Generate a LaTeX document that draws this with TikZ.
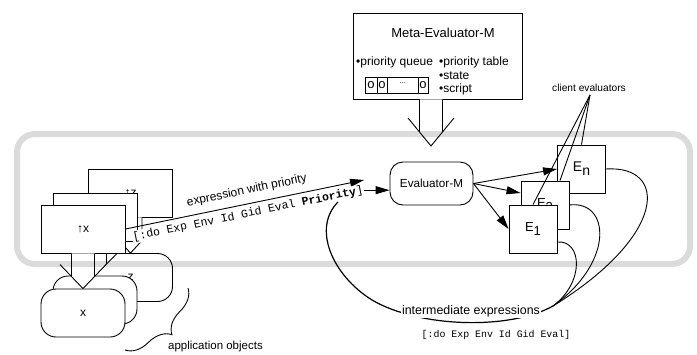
\documentclass[tikz,border=0pt]{standalone}
\usepackage{fontspec}
\setmainfont{Liberation Sans}
\newfontfamily\monofont{Liberation Mono}
\usetikzlibrary{arrows.meta,calc,decorations.pathreplacing}
\newcommand\fsz[2]{\fontsize{#1}{#2}\selectfont}
% hollow block arrow: #1 top point, #2 tip point, #3 head length
\newcommand\blockarrow[3]{%
  \fill[white] let \p1=#1, \p2=#2 in
    (\x2-11.5pt,\y1) -- (\x2-11.5pt,\y2+#3) -- (\x2-23pt,\y2+#3) -- (\x2,\y2)
    -- (\x2+23pt,\y2+#3) -- (\x2+11.5pt,\y2+#3) -- (\x2+11.5pt,\y1) -- cycle;
  \draw[conn] let \p1=#1, \p2=#2 in
    (\x2-11.5pt,\y1) -- (\x2-11.5pt,\y2+0.5*#3)
    (\x2-23pt,\y2+#3) -- (\x2,\y2) -- (\x2+23pt,\y2+#3)
    (\x2+11.5pt,\y2+0.5*#3) -- (\x2+11.5pt,\y1);}
\tikzset{
  conn/.style={line width=0.9pt, black},
  box/.style={draw, line width=0.9pt, fill=white, inner sep=0pt},
  abox/.style={box, minimum width=84pt, minimum height=48pt},
  rbox/.style={abox, rounded corners=15pt},
  ebox/.style={box, minimum width=48pt, minimum height=48pt},
  qcell/.style={draw, line width=0.9pt, minimum height=16pt, inner sep=0pt},
  lbl/.style={inner sep=0pt},
  headarrow/.style={-{Triangle[length=14pt,width=8pt]}}
}
\begin{document}
\begin{tikzpicture}[x=1pt,y=-1pt]
\useasboundingbox (0,0) rectangle (697,354);

% ---- stacked application objects (back to front)
\node[abox] (uz) at (130.5,193) {\fsz{12}{12}↑z};
\node[rbox] (z) at (130.5,277.5) {\fsz{12}{12}z};
\blockarrow{(uz.south)}{(z.north)}{25pt}
\node[abox] (uy) at (95,217) {};
\node[rbox] (y) at (95,300) {};
\blockarrow{(uy.south)}{(y.north)}{23pt}
\node[abox] (ux) at (83,229) {\fsz{12}{12}↑x};
\node[rbox] (x) at (83,313) {\fsz{12}{12}x};
\blockarrow{(ux.south)}{(x.north)}{24pt}

% ---- Evaluator-M
\node[box, rounded corners=13pt, minimum width=83pt, minimum height=43pt] (evalm) at (431.5,183.5) {\fsz{11.7}{14}Evaluator-M};

% ---- message from application object
\coordinate (tip1) at (364,180);
\draw[conn, headarrow] (ux.east) -- node[pos=0.52, sloped, above=7pt, inner sep=0pt] (expl) {\fsz{12}{12}expression with priority} (tip1);
\node[rotate=11.6, fill=white, inner sep=1pt] (msg) at (248,214) {\monofont\fsz{11.5}{12}[:do Exp Env Id Gid Eval \textbf{Priority}]};
\draw[conn, headarrow] (msg.east) -- (msg.east -| evalm.west);

% ---- Meta-Evaluator-M
\node[box, minimum width=169pt, minimum height=86pt] (meta) at (437.5,56) {};
\node[lbl] (metat) at (443,33) {\fsz{13}{13}Meta-Evaluator-M};
\node[lbl, anchor=west] (pq) at (356,62) {\fsz{12}{13}•priority queue};
\node[lbl, anchor=west] (pt) at (439,62) {\fsz{12}{13}•priority table};
\node[lbl, anchor=west] (st) at (439,76) {\fsz{12}{13}•state};
\node[lbl, anchor=west] (sc) at (439,89) {\fsz{12}{13}•script};
\node[qcell, minimum width=12pt] (q1) at (371,85) {\fsz{13}{13}o};
\node[qcell, minimum width=10pt] (q2) at (382,85) {\fsz{13}{13}o};
\node[qcell, minimum width=31pt] (q3) at (402.5,85) {\raisebox{3pt}{\fsz{7}{7}...}};
\node[qcell, minimum width=10pt] (q4) at (423,85) {\fsz{13}{13}o};
\coordinate (metatip) at (431,146);
\blockarrow{([xshift=-6.5pt]meta.south)}{(metatip)}{28pt}

% ---- client evaluators
\node[ebox] (En) at (581.5,169) {\fsz{14}{14}E\raisebox{-4pt}{n}};
\node[ebox] (E2) at (545,205) {\fsz{13}{13}E\raisebox{-4pt}{2}};
\node[ebox] (E1) at (533,229) {\fsz{13}{13}E\raisebox{-4pt}{1}};
\draw[conn, headarrow] (evalm.east) -- (En.west);
\draw[conn, headarrow] (evalm.east) -- ([yshift=12pt]E2.west);
\draw[conn, headarrow] (evalm.east) -- (E1.west);
\node[lbl] (clabel) at (589,88) {\fsz{10.2}{12}client evaluators};
\coordinate (cfoc) at (590,95);
\draw[conn] (cfoc) -- (En.north);
\draw[conn] (cfoc) -- ([xshift=15pt]E2.north);
\draw[conn] (cfoc) -- (E1.north);

% ---- intermediate expressions feedback
\coordinate (merge) at (553,306);
\coordinate (fend) at (338,202);
\draw[conn] (En.east) .. controls (668,165) and (668,235) .. (merge);
\draw[conn] (E2.east) .. controls (610,200) and (615,262) .. (merge);
\draw[conn] ([yshift=-13pt]E1.east) .. controls (582,240) and (585,282) .. (merge);
\draw[conn, line width=1.2pt] (merge) .. controls (510,330) and (420,328) .. (372,300)
   .. controls (332,275) and (312,228) .. (fend);
\node[fill=white, inner sep=1pt] (iexp) at (471,311) {\fsz{12.4}{13}intermediate expressions};
\node[lbl] (iexpmsg) at (496,335) {\monofont\fsz{9.9}{10}[:do Exp Env Id Gid Eval]};

% ---- application objects brace
\draw[conn, decorate, decoration={brace, amplitude=22pt}] (188,288) -- (125,350);
\node[lbl] (appobj) at (215.5,347) {\fsz{11.5}{12}application objects};

% ---- gray environment frame
\begin{scope}[blend mode=multiply]
\draw[line width=6pt, black!14, rounded corners=18pt] (17,134) rectangle (690,264);
\end{scope}
\end{tikzpicture}
\end{document}
